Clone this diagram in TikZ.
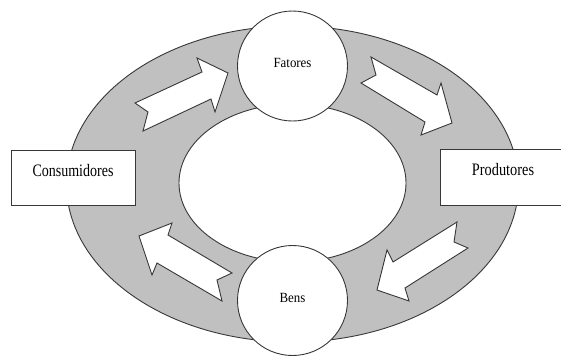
\documentclass[tikz,border=0pt]{standalone}
\usepackage{fontspec}
\usepackage{graphicx}
\setmainfont{Liberation Serif}
\definecolor{ringgray}{RGB}{192,192,192}
\definecolor{edgegray}{RGB}{55,55,55}
\tikzset{
  edge/.style={draw=edgegray, line width=0.9pt},
  ring/.style={edge, fill=ringgray},
  hole/.style={edge, fill=white},
  blockarrow/.style={edge, fill=white, line join=miter},
  bubble/.style={edge, fill=white, circle, minimum size=110pt, inner sep=0pt},
  sector/.style={edge, fill=white, rectangle, inner sep=0pt},
  biglabel/.style={font=\fontsize{17.5}{18}\selectfont, inner sep=0pt},
  smalllabel/.style={font=\fontsize{14}{15}\selectfont, inner sep=0pt}
}
\begin{document}
\begin{tikzpicture}[x=1pt,y=-1pt]
\useasboundingbox (0,0) rectangle (561,356);
\clip (0,0) rectangle (561,356);
% ring
\draw[ring] (292.5,184) ellipse [x radius=226, y radius=158];
\draw[hole] (292.5,183) ellipse [x radius=113.5, y radius=79];
% block arrows
\draw[blockarrow] (135,103) -- (202,72) -- (197,58) -- (228,73) -- (215,112) -- (211,99) -- (143,131) -- (148,112) -- cycle;
\draw[blockarrow] (371,57) -- (437,95) -- (441,83) -- (452,123) -- (421,135) -- (425,122) -- (361,83) -- (376,75) -- cycle;
\draw[blockarrow] (457,222) -- (454,242) -- (468,248) -- (405,288) -- (409,301) -- (377,290) -- (387,250) -- (393,262) -- cycle;
\draw[blockarrow] (232,273) -- (168,235) -- (172,223) -- (139,236) -- (152,275) -- (157,263) -- (222,301) -- (217,280) -- cycle;
% circles
\node[bubble] (fat) at (292.5,66) {};
\node[bubble] (bens) at (292.5,300.5) {};
\node[smalllabel] at ([yshift=3]fat.center) {\scalebox{0.92}[1]{Fatores}};
\node[smalllabel] at ([yshift=2.5]bens.center) {\scalebox{0.92}[1]{Bens}};
% boxes
\node[sector, minimum width=124pt, minimum height=55pt] (cons) at (73,177.5) {};
\node[sector, minimum width=135pt, minimum height=56pt] (prod) at (507.5,177) {};
\node[biglabel] at ([yshift=-20.5]cons.north) {\scalebox{0.8}[1]{Consumidores}};
\node[biglabel] at ([xshift=-4.5,yshift=-20.5]prod.north) {\scalebox{0.82}[1]{Produtores}};
\end{tikzpicture}
\end{document}
